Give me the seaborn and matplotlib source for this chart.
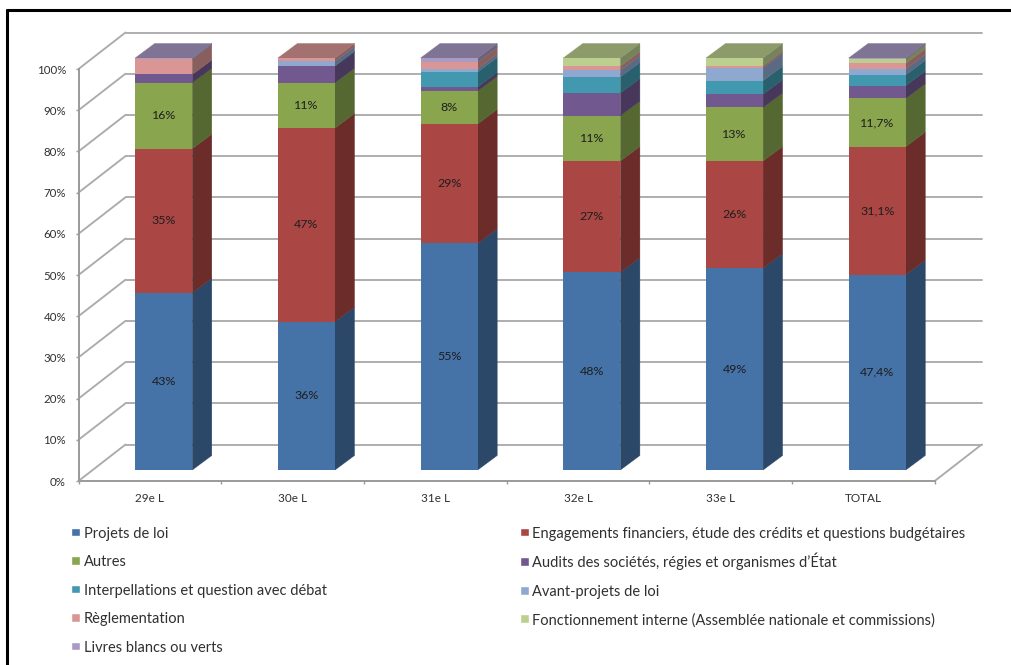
import matplotlib
matplotlib.use("Agg")
import matplotlib.pyplot as plt
from matplotlib.colors import to_rgb
from matplotlib.legend_handler import HandlerPatch
from matplotlib.lines import Line2D
from matplotlib.patches import Rectangle
from matplotlib.transforms import Affine2D
import pandas as pd
import seaborn as sns

# Legislatures along the horizontal axis
legislatures = ["29e L", "30e L", "31e L", "32e L", "33e L", "TOTAL"]

# Share of committee work per mandate type, in percent
projets_loi = [43, 36, 55, 48, 49, 47.4]
engagements = [35, 47, 29, 27, 26, 31.1]
autres = [16, 11, 8, 11, 13, 11.7]
audits = [2.0, 4.0, 1.0, 5.5, 3.2, 3.1]
interpellations = [0.0, 0.1, 3.6, 3.9, 3.3, 2.6]
avant_projets = [0.0, 1.1, 0.8, 1.6, 3.1, 1.4]
reglementation = [3.7, 0.8, 1.6, 1.0, 0.5, 1.4]
fonctionnement = [0.0, 0.0, 0.0, 2.0, 1.9, 1.0]
livres = [0.3, 0.0, 1.0, 0.0, 0.0, 0.3]

series_names = [
    "Projets de loi",
    "Engagements financiers, étude des crédits et questions budgétaires",
    "Autres",
    "Audits des sociétés, régies et organismes d’État",
    "Interpellations et question avec débat",
    "Avant-projets de loi",
    "Règlementation",
    "Fonctionnement interne (Assemblée nationale et commissions)",
    "Livres blancs ou verts",
]
series_values = [projets_loi, engagements, autres, audits, interpellations,
                 avant_projets, reglementation, fonctionnement, livres]
series_colors = ["#4572A7", "#AA4643", "#89A54E", "#71588F", "#4198AF",
                 "#8FA8D0", "#D99694", "#BCCF8F", "#A99BC4"]

# Printed value labels, as they appear on the three largest segments
value_labels = [
    ["43%", "36%", "55%", "48%", "49%", "47,4%"],
    ["35%", "47%", "29%", "27%", "26%", "31,1%"],
    ["16%", "11%", "8%", "11%", "13%", "11,7%"],
]

WIDTH, HEIGHT = 1011, 665
CAT_PX, FULL_PX = 142.7, 412.0   # pixels per category, pixels per 100 %
AXIS_LEFT, AXIS_BOTTOM = 78.5, 481
BAR_OFFSET = (13.9, 11.0)        # front face of the bars relative to the axis plane
BAR_DEPTH = (19.5, 14.5)         # extruded depth of each bar
WALL_DEPTH = (47.0, 36.5)        # back wall relative to the axis plane
GRID = "#ABABAB"
AXIS_GREY = "#9A9A9A"
TEXT = "#303030"

sns.set_theme(style="white")
plt.rcParams["font.family"] = ["Lato", "DejaVu Sans"]

fig = plt.figure(figsize=(WIDTH / 100, HEIGHT / 100), dpi=100, facecolor="white")
ax = fig.add_axes([AXIS_LEFT / WIDTH, (HEIGHT - AXIS_BOTTOM) / HEIGHT,
                   6 * CAT_PX / WIDTH, FULL_PX / HEIGHT])
ax.patch.set_alpha(0)


def shift(px_x, px_y):
    """Convert a pixel offset into data units."""
    return px_x / CAT_PX, px_y * 100 / FULL_PX


def shade(color, factor):
    r, g, b = to_rgb(color)
    return (r * factor, g * factor, b * factor)


def legend_square(legend, orig_handle, xdescent, ydescent, width, height, fontsize):
    """Small swatch inside a taller handle box, so that all rows keep one height."""
    side = 0.6 * fontsize
    return Rectangle((-xdescent, 0.38 * fontsize - side / 2), width, side)


# Front faces: one stacked layer per mandate type
bar_transform = ax.transData + Affine2D().translate(*BAR_OFFSET)
handles = {}
bottoms = [0.0] * len(legislatures)
tops_per_series = []
for name, values, color in zip(series_names, series_values, series_colors):
    frame = pd.DataFrame({"legislature": legislatures, "share": values})
    before = len(ax.containers)
    sns.barplot(data=frame, x="legislature", y="share", order=legislatures,
                bottom=bottoms, color=color, saturation=1, width=0.4,
                errorbar=None, ax=ax, zorder=4, linewidth=0)
    for patch in ax.containers[before]:
        patch.set_transform(bar_transform)
        patch.set_clip_on(False)
    handles[name] = Rectangle((0, 0), 1, 1, facecolor=color)
    tops_per_series.append([b + v for b, v in zip(bottoms, values)])
    bottoms = tops_per_series[-1]

ax.set_xlim(-0.5, 5.5)
ax.set_ylim(0, 100)

# Side and top faces of the extruded bars
half = 0.2
ox, oy = shift(*BAR_OFFSET)
dx, dy = shift(*BAR_DEPTH)
for i in range(len(legislatures)):
    right = i + half + ox
    left = i - half + ox
    base = 0.0
    top_color = series_colors[0]
    for s, color in enumerate(series_colors):
        value = series_values[s][i]
        if value <= 0:
            continue
        y0, y1 = base + oy, base + value + oy
        ax.fill([right, right + dx, right + dx, right],
                [y0, y0 + dy, y1 + dy, y1],
                color=shade(color, 0.63), lw=0.3, zorder=3, clip_on=False)
        base += value
        top_color = color
    ytop = base + oy
    ax.fill([left, right, right + dx, left + dx],
            [ytop, ytop, ytop + dy, ytop + dy],
            color=shade(top_color, 0.75), lw=0.3, zorder=3, clip_on=False)

# Value labels in the middle of each named segment
for row, labels in enumerate(value_labels):
    lower = [0.0] * len(legislatures) if row == 0 else tops_per_series[row - 1]
    for i, label in enumerate(labels):
        ax.text(i + ox, lower[i] + series_values[row][i] / 2 + oy, label,
                ha="center", va="center", fontsize=8.9, color="#1E1E1E",
                zorder=6, clip_on=False)

# Back wall, floor and left wall gridlines
wx, wy = shift(*WALL_DEPTH)
right_edge = 5.5
for level in range(0, 101, 10):
    ax.plot([-0.5 + wx, right_edge + wx], [level + wy, level + wy],
            color=GRID, lw=1.35, zorder=1, clip_on=False)
    ax.plot([-0.5, -0.5 + wx], [level, level + wy],
            color=GRID, lw=1.35, zorder=1, clip_on=False)
ax.plot([right_edge, right_edge + wx], [0, wy], color=GRID, lw=1.35, zorder=1,
        clip_on=False)

# Axes
sns.despine(ax=ax, top=True, right=True)
for side in ("left", "bottom"):
    ax.spines[side].set_color(AXIS_GREY)
    ax.spines[side].set_linewidth(1.4)
ax.set_xlabel("")
ax.set_ylabel("")
ax.set_yticks(range(0, 101, 10))
ax.set_yticklabels([f"{v}%" for v in range(0, 101, 10)])
ax.set_xticks(range(len(legislatures)))
ax.set_xticklabels(legislatures)
ax.set_xticks([i - 0.5 for i in range(len(legislatures) + 1)], minor=True)
ax.tick_params(axis="y", which="major", length=2.5, width=1, color=AXIS_GREY,
               pad=6.5, labelsize=8.3, labelcolor=TEXT, left=True)
ax.tick_params(axis="x", which="major", length=0, pad=9, labelsize=8.5,
               labelcolor=TEXT)
ax.tick_params(axis="x", which="minor", length=2.5, width=1, color=AXIS_GREY,
               bottom=True)

# Legend reads row by row, matplotlib fills column by column
order = [0, 2, 4, 6, 8, 1, 3, 5, 7]
ax.legend([handles[series_names[k]] for k in order],
          [series_names[k] for k in order],
          handler_map={Rectangle: HandlerPatch(patch_func=legend_square)},
          ncol=2, loc="upper left", frameon=False,
          bbox_to_anchor=((71 - AXIS_LEFT) / (6 * CAT_PX), -0.105),
          fontsize=10.55, labelcolor=TEXT, handlelength=0.62, handleheight=1.4,
          handletextpad=0.25, labelspacing=0.79, columnspacing=13.17,
          borderpad=0, borderaxespad=0)

# Outer frame of the image
frame_kw = dict(transform=fig.transFigure, color="black", lw=2.2)
fig.add_artist(Line2D([6.5 / WIDTH, 6.5 / WIDTH], [0, 1 - 10 / HEIGHT], **frame_kw))
fig.add_artist(Line2D([6.5 / WIDTH, 1], [1 - 10 / HEIGHT, 1 - 10 / HEIGHT], **frame_kw))

fig.savefig("out.png", dpi=100)
